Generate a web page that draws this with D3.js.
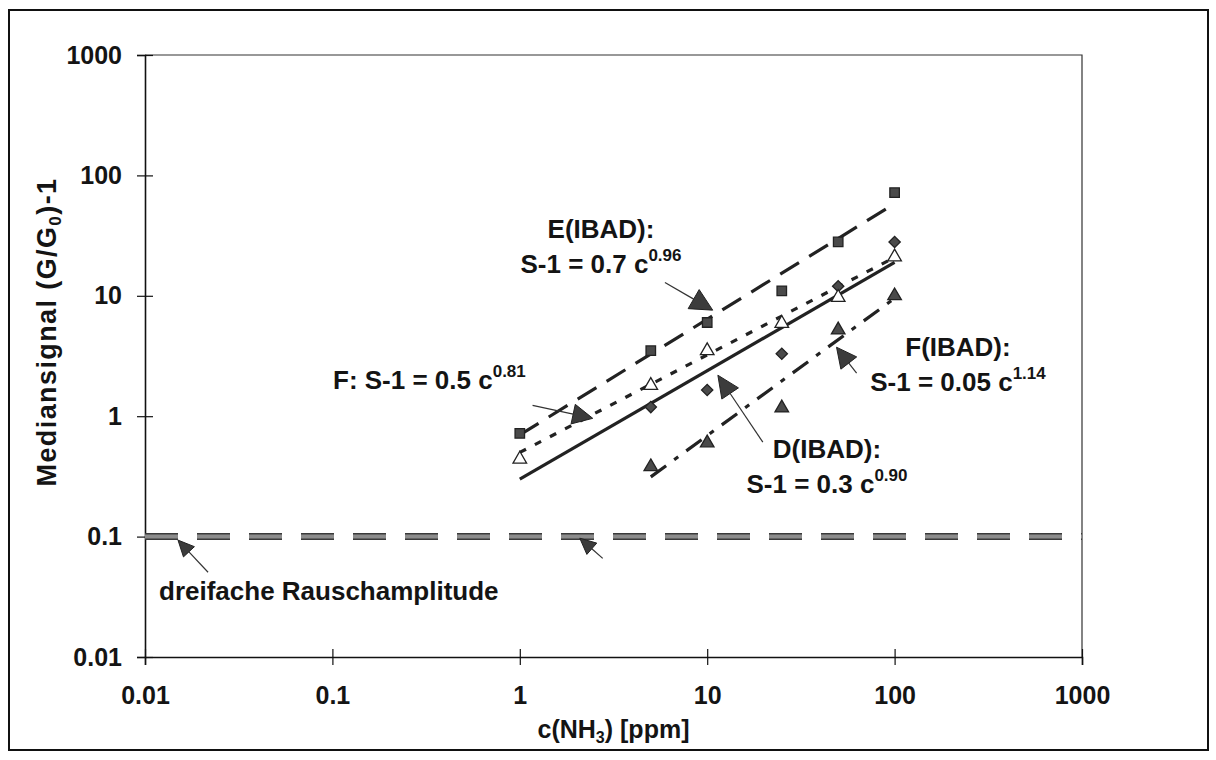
<!DOCTYPE html>
<html>
<head>
<meta charset="utf-8">
<script src="https://cdn.jsdelivr.net/npm/d3@7"></script>
<style>
  html, body { margin: 0; padding: 0; background: #fff; }
  svg { display: block; }
  text { font-family: "Liberation Sans", Arial, Helvetica, sans-serif; font-weight: bold; fill: #141414; }
</style>
</head>
<body>
<svg id="chart" width="1216" height="760"></svg>
<script>
// NH3 concentrations (ppm) and median sensor signals (G/G0)-1
const concAll = [1, 5, 10, 25, 50, 100];
const concIBAD = [5, 10, 25, 50, 100];

const sensorE_IBAD = [0.72, 3.5, 6.0, 11, 28, 72];   // squares, at concAll
const sensorF = [0.44, 1.8, 3.5, 5.9, 9.7, 21];       // open triangles, at concAll
const sensorD_IBAD = [1.19, 1.65, 3.3, 12, 28];       // diamonds, at concIBAD
const sensorF_IBAD = [0.38, 0.6, 1.17, 5.2, 10];      // filled triangles, at concIBAD

// power-law fits S-1 = a * c^b
const fitNames = ["E(IBAD)", "F", "D(IBAD)", "F(IBAD)"];
const fitA = [0.7, 0.5, 0.3, 0.05];
const fitB = [0.96, 0.81, 0.90, 1.14];
const fitFrom = [1, 1, 1, 5];
const fitTo = [100, 100, 100, 100];

// threefold noise amplitude
const noiseLevel = 0.1;

const xTicks = [0.01, 0.1, 1, 10, 100, 1000];
const yTicks = [0.01, 0.1, 1, 10, 100, 1000];
const xTickLabels = ["0.01", "0.1", "1", "10", "100", "1000"];
const yTickLabels = ["0.01", "0.1", "1", "10", "100", "1000"];

const svg = d3.select("#chart");
const plot = { left: 145, right: 1082, top: 55, bottom: 657 };

const x = d3.scaleLog().domain([0.01, 1000]).range([plot.left, plot.right]);
const y = d3.scaleLog().domain([0.01, 1000]).range([plot.bottom, plot.top]);

// outer frame
svg.append("rect")
  .attr("x", 9).attr("y", 10).attr("width", 1199).attr("height", 740)
  .attr("fill", "none").attr("stroke", "#111").attr("stroke-width", 2);

// plot area box (top / right)
svg.append("path")
  .attr("d", `M${plot.left},${plot.top}H${plot.right}V${plot.bottom}`)
  .attr("fill", "none").attr("stroke", "#333").attr("stroke-width", 1.2);

// axes
const xAxis = svg.append("g")
  .attr("transform", `translate(0,${plot.bottom})`)
  .call(d3.axisBottom(x).tickValues(xTicks).tickFormat((d, i) => xTickLabels[i]).tickSizeOuter(0).tickSize(8).tickPadding(21));
const yAxis = svg.append("g")
  .attr("transform", `translate(${plot.left},0)`)
  .call(d3.axisLeft(y).tickValues(yTicks).tickFormat((d, i) => yTickLabels[i]).tickSizeOuter(0).tickSize(8).tickPadding(15));

[xAxis, yAxis].forEach(g => {
  g.select(".domain").attr("stroke", "#111").attr("stroke-width", 1.6);
  g.selectAll(".tick line").attr("stroke", "#111").attr("stroke-width", 1.2);
  g.selectAll(".tick text")
    .attr("font-family", "'Liberation Sans', Arial, sans-serif")
    .attr("font-weight", "bold").attr("font-size", 25).attr("fill", "#141414");
});
xAxis.selectAll(".tick line").attr("y1", -8).attr("y2", 8);
yAxis.selectAll(".tick line").attr("x1", -8).attr("x2", 8);

// axis titles
const xTitle = svg.append("text")
  .attr("x", (plot.left + plot.right) / 2).attr("y", 738)
  .attr("text-anchor", "middle").attr("font-size", 25);
xTitle.append("tspan").text("c(NH");
xTitle.append("tspan").attr("font-size", 16).attr("dy", 5).text("3");
xTitle.append("tspan").attr("dy", -5).text(") [ppm]");

const yTitle = svg.append("text")
  .attr("transform", "translate(56,332) rotate(-90)")
  .attr("text-anchor", "middle").attr("font-size", 27)
  .attr("letter-spacing", 1.4);
yTitle.append("tspan").text("Mediansignal (G/G");
yTitle.append("tspan").attr("font-size", 17).attr("dy", 5).text("0");
yTitle.append("tspan").attr("dy", -5).text(")-1");

// noise threshold line
svg.append("line")
  .attr("x1", x(0.01)).attr("x2", x(1000))
  .attr("y1", y(noiseLevel)).attr("y2", y(noiseLevel))
  .attr("stroke", "#3a3a3a").attr("stroke-width", 7)
  .attr("stroke-dasharray", "33 19");
svg.append("line")
  .attr("x1", x(0.01)).attr("x2", x(1000))
  .attr("y1", y(noiseLevel)).attr("y2", y(noiseLevel))
  .attr("stroke", "#8c8c8c").attr("stroke-width", 4)
  .attr("stroke-dasharray", "33 19");

// fit lines
const fitDash = ["22 12", "7 10", null, "19 10 5 10"];
fitNames.forEach((name, i) => {
  const c0 = fitFrom[i], c1 = fitTo[i];
  const v0 = fitA[i] * Math.pow(c0, fitB[i]);
  const v1 = fitA[i] * Math.pow(c1, fitB[i]);
  svg.append("line")
    .attr("x1", x(c0)).attr("y1", y(v0))
    .attr("x2", x(c1)).attr("y2", y(v1))
    .attr("stroke", "#222").attr("stroke-width", 3.2)
    .attr("stroke-dasharray", fitDash[i]);
});

// measured points
function drawPoints(conc, vals, type, fill, size, rot) {
  svg.append("g").selectAll("path")
    .data(vals)
    .join("path")
    .attr("d", d3.symbol().type(type).size(size))
    .attr("transform", (d, i) => `translate(${x(conc[i])},${y(d)}) rotate(${rot})`)
    .attr("fill", fill)
    .attr("stroke", "#222").attr("stroke-width", 1.3);
}
drawPoints(concAll, sensorE_IBAD, d3.symbolSquare, "#4a4a4a", 90, 0);
drawPoints(concIBAD, sensorD_IBAD, d3.symbolSquare, "#4a4a4a", 64, 45);
drawPoints(concIBAD, sensorF_IBAD, d3.symbolTriangle, "#4a4a4a", 80, 0);
drawPoints(concAll, sensorF, d3.symbolTriangle, "#fff", 80, 0);

// annotation arrows: tail and tip in data coordinates
function arrow(c1, v1, c2, v2, headLen, headW) {
  const x1 = x(c1), y1 = y(v1), x2 = x(c2), y2 = y(v2);
  const ang = Math.atan2(y2 - y1, x2 - x1);
  const bx = x2 - headLen * Math.cos(ang), by = y2 - headLen * Math.sin(ang);
  const nx = -Math.sin(ang) * headW / 2, ny = Math.cos(ang) * headW / 2;
  svg.append("line")
    .attr("x1", x1).attr("y1", y1).attr("x2", bx).attr("y2", by)
    .attr("stroke", "#333").attr("stroke-width", 1.2);
  svg.append("path")
    .attr("d", `M${x2},${y2}L${bx + nx},${by + ny}L${bx - nx},${by - ny}Z`)
    .attr("fill", "#3c3c3c").attr("stroke", "#222").attr("stroke-width", 1);
}
arrow(5.95, 12.9, 10.7, 7.6, 22, 22);
arrow(1.17, 1.23, 2.45, 0.96, 20, 20);
arrow(19.8, 0.61, 11.4, 2.19, 22, 20);
arrow(62.7, 2.28, 49, 3.74, 20, 20);
arrow(0.0217, 0.0506, 0.0150, 0.0935, 16, 15);
arrow(2.77, 0.066, 2.09, 0.097, 16, 15);

// annotation text blocks
function label(cx, y1, title, lead, exp) {
  svg.append("text").attr("x", cx).attr("y", y1)
    .attr("text-anchor", "middle").attr("font-size", 26).text(title);
  const t = svg.append("text").attr("x", cx).attr("y", y1 + 35)
    .attr("text-anchor", "middle").attr("font-size", 26);
  t.append("tspan").text(lead);
  t.append("tspan").attr("font-size", 17).attr("dy", -12).text(exp);
}
label(601, 238, "E(IBAD):", "S-1 = 0.7 c", "0.96");
label(958, 356, "F(IBAD):", "S-1 = 0.05 c", "1.14");
label(827, 458, "D(IBAD):", "S-1 = 0.3 c", "0.90");

const fText = svg.append("text").attr("x", 333).attr("y", 389).attr("font-size", 26);
fText.append("tspan").text("F: S-1 = 0.5 c");
fText.append("tspan").attr("font-size", 17).attr("dy", -12).text("0.81");

svg.append("text").attr("x", 159).attr("y", 600).attr("font-size", 26)
  .text("dreifache Rauschamplitude");
</script>
</body>
</html>
